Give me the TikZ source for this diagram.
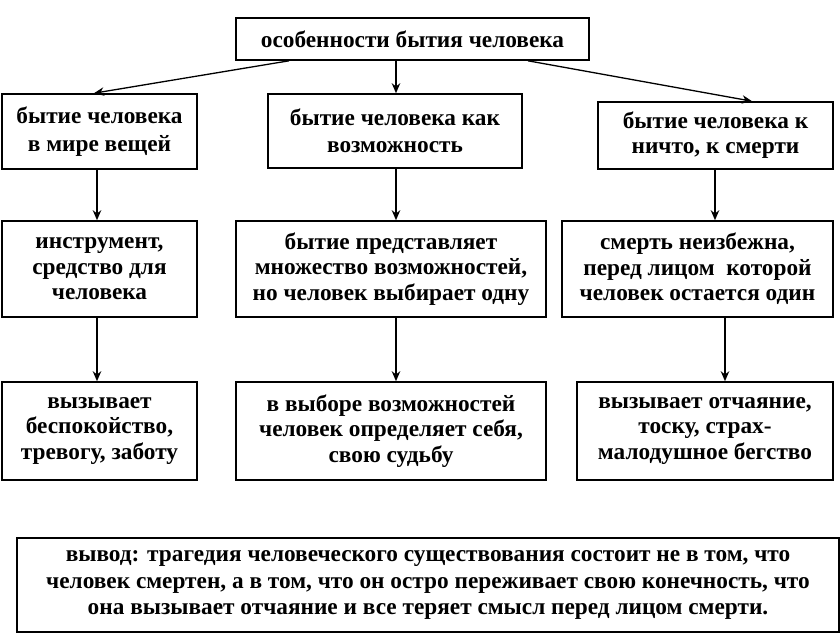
\documentclass[tikz,border=0pt]{standalone}
\usepackage{fontspec}
\setmainfont{Liberation Serif}
\usetikzlibrary{arrows.meta}
\tikzset{
  box/.style={draw=black, line width=1.6pt, rectangle, inner sep=0pt, align=center,
    font=\fontsize{23.3}{25.5}\selectfont\bfseries},
  wide/.style={font=\fontsize{23.3}{27.5}\selectfont\bfseries},
  arr/.style={draw=black, line width=1.3pt, -{Stealth[length=10pt,width=8.5pt]}}
}
\begin{document}
\begin{tikzpicture}[x=1pt,y=-1pt]
\useasboundingbox (0,0) rectangle (840,635);
\node[box, minimum width=353, minimum height=42] (top) at (412.5,39) {особенности бытия человека};
\node[box, wide, minimum width=195, minimum height=75] (A) at (99.5,131.5) {бытие человека\\в мире вещей};
\node[box, wide, minimum width=254, minimum height=74] (B) at (395,131) {бытие человека как\\возможность};
\node[box, font=\fontsize{23.3}{25}\selectfont\bfseries, minimum width=235, minimum height=67] (C) at (715.5,135.5) {бытие человека к\\ничто, к смерти};
\node[box, minimum width=195, minimum height=96] (D) at (99.5,269) {инструмент,\\средство для\\человека};
\node[box, minimum width=310, minimum height=96] (E) at (391,269) {бытие представляет\\множество возможностей,\\но человек выбирает одну};
\node[box, minimum width=271, minimum height=96] (F) at (697.5,269) {смерть неизбежна,\\перед лицом\ \ которой\\человек остается один};
\node[box, minimum width=195, minimum height=98] (G) at (99.5,431) {вызывает\\беспокойство,\\тревогу, заботу};
\node[box, minimum width=310, minimum height=98] (H) at (391,431) {в выборе возможностей\\человек определяет себя,\\свою судьбу};
\node[box, minimum width=256, minimum height=98] (I) at (705,431) {вызывает отчаяние,\\тоску, страх-\\малодушное бегство};
\node[box, font=\fontsize{23.3}{26.5}\selectfont\bfseries, minimum width=822, minimum height=94] (W) at (428,585) {вывод: трагедия человеческого существования состоит не в том, что\\человек смертен, а в том, что он остро переживает свою конечность, что\\она вызывает отчаяние и все теряет смысл перед лицом смерти.};
\draw[arr] (top.south -| 289,0) -- (A.north -| 94,0);
\draw[arr] (top.south -| 396,0) -- (B.north -| 396,0);
\draw[arr] (top.south -| 528,0) -- (C.north -| 752,0);
\draw[arr] (A.south -| 97,0) -- (D.north -| 97,0);
\draw[arr] (B.south -| 396,0) -- (E.north -| 396,0);
\draw[arr] (C.south -| 715,0) -- (F.north -| 715,0);
\draw[arr] (D.south -| 97,0) -- (G.north -| 97,0);
\draw[arr] (E.south -| 396,0) -- (H.north -| 396,0);
\draw[arr] (F.south -| 725,0) -- (I.north -| 725,0);
\end{tikzpicture}
\end{document}
